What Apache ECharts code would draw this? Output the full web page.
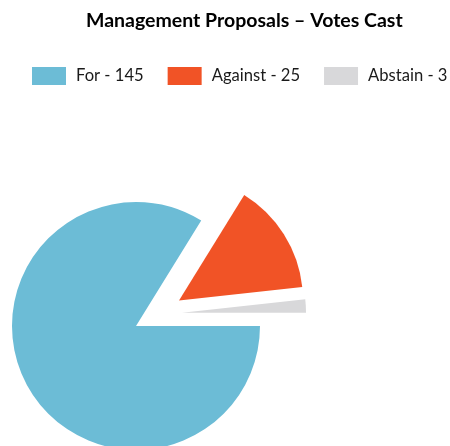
<!DOCTYPE html>
<html>
<head>
<meta charset="utf-8">
<script src="https://cdn.jsdelivr.net/npm/echarts@6/dist/echarts.min.js"></script>
<style>
  html, body { margin: 0; padding: 0; background: #fff; }
  #chart { width: 450px; height: 446px; }
</style>
</head>
<body>
<div id="chart"></div>
<script>
// data
const voteNames = ['For', 'Against', 'Abstain']
const voteCounts = [145, 25, 3]
const sliceColors = ['#6cbcd6', '#f15326', '#d8d8da']
// exploded centers of each slice (layout only)
const sliceCenters = [[136, 326], [179, 300.5], [182, 312.7]]

const chart = echarts.init(document.getElementById('chart'))

const fontFam = 'Lato, "Open Sans", sans-serif'

function sliceSeries(idx) {
  return {
    type: 'pie',
    center: sliceCenters[idx],
    radius: 124,
    startAngle: 0,
    clockwise: true,
    silent: true,
    label: { show: false },
    labelLine: { show: false },
    emphasis: { disabled: true },
    data: voteNames.map((n, i) => ({
      name: n,
      value: voteCounts[i],
      itemStyle: { color: i === idx ? sliceColors[i] : 'rgba(0,0,0,0)' },
    })),
  }
}

chart.setOption({
  animation: false,
  backgroundColor: '#fff',
  title: {
    text: 'Management Proposals \u2013 Votes Cast',
    left: 81,
    top: 6,
    textStyle: { fontFamily: fontFam, fontSize: 19.5, fontWeight: 'bold', color: '#000' },
  },
  legend: {
    left: 27,
    top: 62,
    width: 440,
    icon: 'rect',
    itemWidth: 34,
    itemHeight: 18,
    itemGap: 24,
    selectedMode: false,
    formatter: name => name + ' - ' + voteCounts[voteNames.indexOf(name)],
    textStyle: { fontFamily: fontFam, fontSize: 16.6, color: '#1a1a1a', padding: [0, 0, 0, 5] },
    data: voteNames.map((n, i) => ({ name: n, itemStyle: { color: sliceColors[i] } })),
  },
  series: voteNames.map((n, i) => sliceSeries(i)),
})
</script>
</body>
</html>
